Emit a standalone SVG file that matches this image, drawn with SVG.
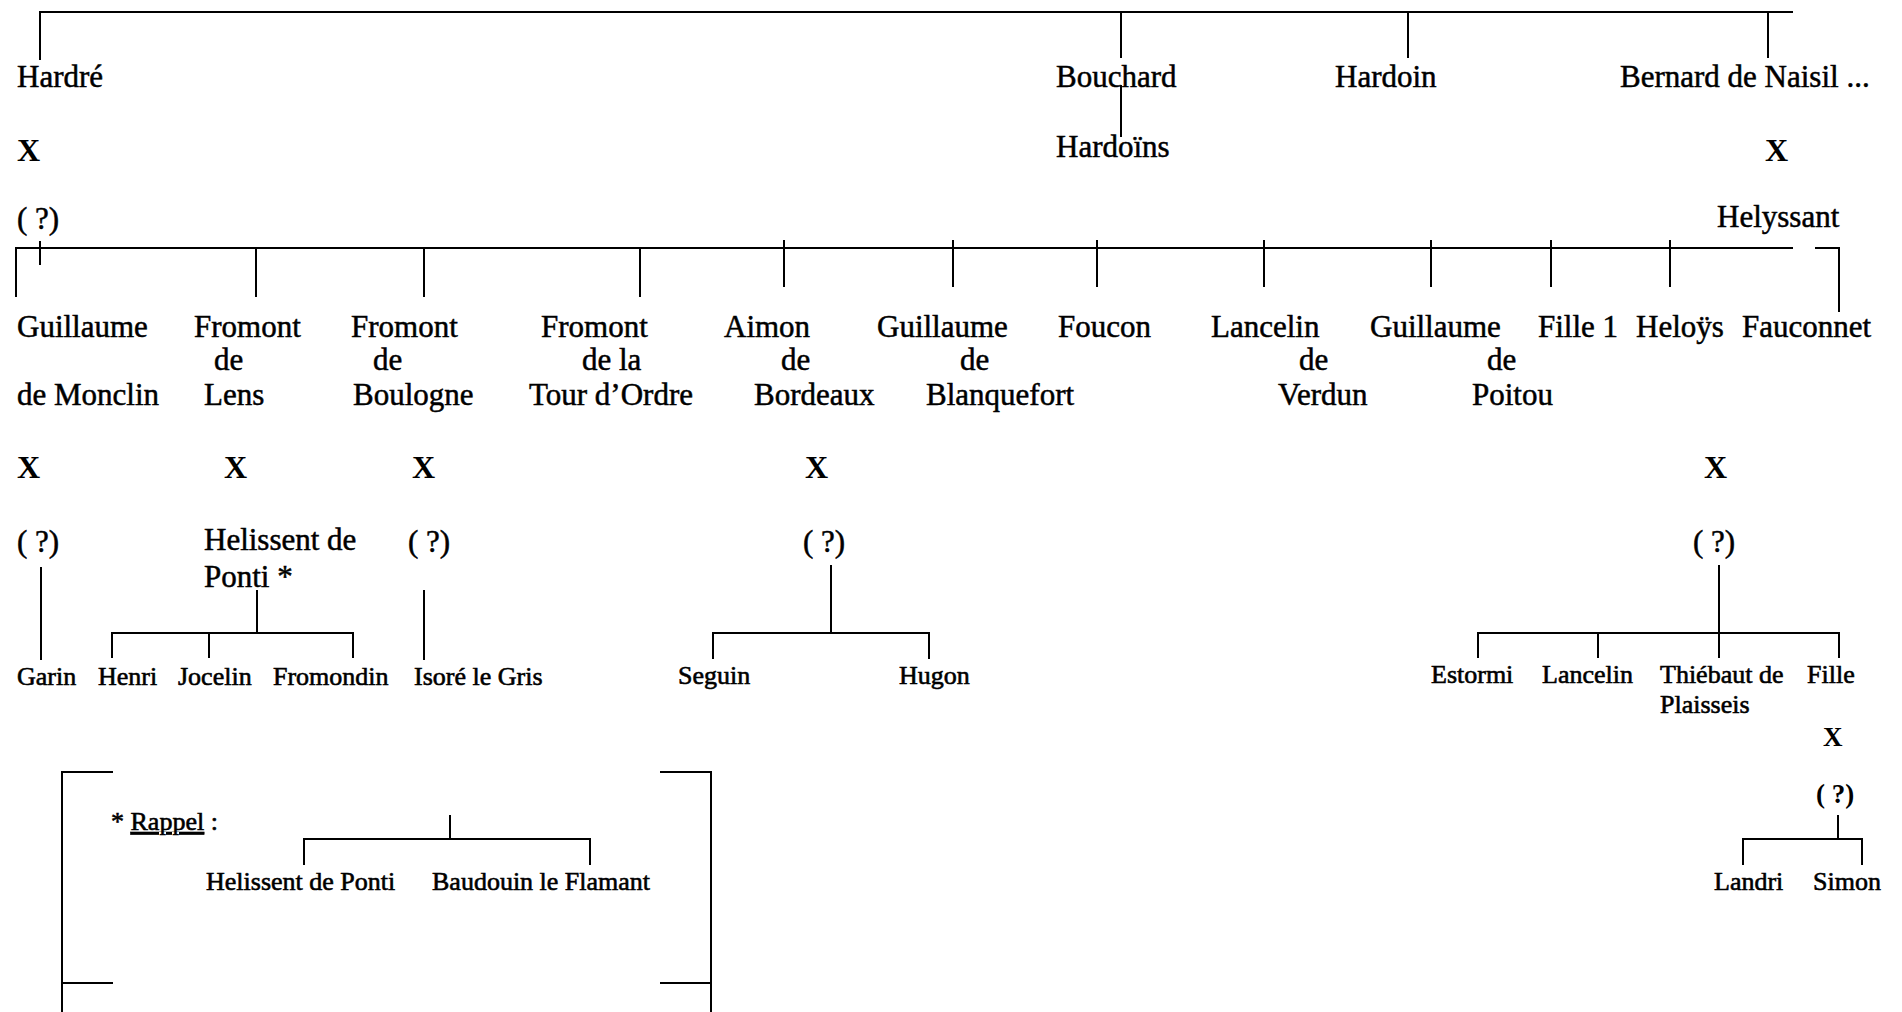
<svg xmlns="http://www.w3.org/2000/svg" width="1902" height="1012" viewBox="0 0 1902 1012">
<style>
text{font-family:"Liberation Serif","Times New Roman",serif;fill:#000}
.t{font-size:31px;stroke:#000;stroke-width:0.5}
.s{font-size:26px;stroke:#000;stroke-width:0.6}
.x{font-size:32px;font-weight:bold}
.xs{font-size:27px;font-weight:bold}
.c path{stroke:#000;stroke-width:2;fill:none}
.u{text-decoration:underline}
</style>
<rect width="1902" height="1012" fill="#fff"/>
<g id="connectors" class="c">
<path d="M40 60V12H1793"/>
<path d="M1121 12V58M1408 12V58M1768 12V58"/>
<path d="M1121 85V137"/>
<path d="M40 241V265"/>
<path d="M16 297V248H1793"/>
<path d="M1815 248H1839V312"/>
<path d="M256 248V297M424 248V297M640 248V297M784 240V287M953 240V287M1097 240V287M1264 240V287M1431 240V287M1551 240V287M1670 240V287"/>
<path d="M41 567V660"/>
<path d="M257 590V633M112 658V633H353V658M209 633V658"/>
<path d="M424 590V660"/>
<path d="M831 565V633M713 659V633H929V659"/>
<path d="M1719 565V658M1478 658V633H1839V658M1598 633V658"/>
<path d="M1838 815V839M1743 865V839H1862V865"/>
<path d="M450 815V839M304 865V839H590V865"/>
</g>
<g id="rappel-frame" class="c">
<path d="M113 772H62V1012M62 983H113M660 772H711V1012M660 983H711"/>
</g>
<g id="hardre"><text class="t" x="17" y="87">Hardré</text><text class="x" x="17" y="161">X</text><text class="t" x="17" y="229">( ?)</text></g>
<g id="bouchard"><text class="t" x="1056" y="87">Bouchard</text></g>
<g id="hardoins"><text class="t" x="1056" y="157">Hardoïns</text></g>
<g id="hardoin"><text class="t" x="1335" y="87">Hardoin</text></g>
<g id="bernard"><text class="t" x="1620" y="87">Bernard de Naisil ...</text><text class="x" x="1765" y="161">X</text><text class="t" x="1717" y="227">Helyssant</text></g>
<g id="guillaume-monclin"><text class="t" x="17" y="337">Guillaume</text><text class="t" x="17" y="405">de Monclin</text><text class="x" x="17" y="478">X</text><text class="t" x="17" y="552">( ?)</text></g>
<g id="fromont-lens"><text class="t"><tspan x="194" y="337">Fromont</tspan><tspan x="214" y="370">de</tspan><tspan x="204" y="405">Lens</tspan></text><text class="x" x="224" y="478">X</text><text class="t"><tspan x="204" y="550">Helissent de</tspan><tspan x="204" y="587">Ponti *</tspan></text></g>
<g id="fromont-boulogne"><text class="t"><tspan x="351" y="337">Fromont</tspan><tspan x="373" y="370">de</tspan><tspan x="353" y="405">Boulogne</tspan></text><text class="x" x="412" y="478">X</text><text class="t" x="408" y="552">( ?)</text></g>
<g id="fromont-tour"><text class="t"><tspan x="541" y="337">Fromont</tspan><tspan x="582" y="370">de la</tspan><tspan x="529" y="405">Tour d’Ordre</tspan></text></g>
<g id="aimon"><text class="t"><tspan x="724" y="337">Aimon</tspan><tspan x="781" y="370">de</tspan><tspan x="754" y="405">Bordeaux</tspan></text><text class="x" x="805" y="478">X</text><text class="t" x="803" y="552">( ?)</text></g>
<g id="guillaume-blanquefort"><text class="t"><tspan x="877" y="337">Guillaume</tspan><tspan x="960" y="370">de</tspan><tspan x="926" y="405">Blanquefort</tspan></text></g>
<g id="foucon"><text class="t" x="1058" y="337">Foucon</text></g>
<g id="lancelin-verdun"><text class="t"><tspan x="1211" y="337">Lancelin</tspan><tspan x="1299" y="370">de</tspan><tspan x="1278" y="405">Verdun</tspan></text></g>
<g id="guillaume-poitou"><text class="t"><tspan x="1370" y="337">Guillaume</tspan><tspan x="1487" y="370">de</tspan><tspan x="1472" y="405">Poitou</tspan></text></g>
<g id="fille1"><text class="t" x="1538" y="337">Fille 1</text></g>
<g id="heloys"><text class="t" x="1636" y="337">Heloÿs</text><text class="x" x="1704" y="478">X</text><text class="t" x="1693" y="552">( ?)</text></g>
<g id="fauconnet"><text class="t" x="1742" y="337">Fauconnet</text></g>
<g id="garin"><text class="s" x="17" y="685">Garin</text></g>
<g id="henri"><text class="s" x="98" y="685">Henri</text></g>
<g id="jocelin"><text class="s" x="178" y="685">Jocelin</text></g>
<g id="fromondin"><text class="s" x="273" y="685">Fromondin</text></g>
<g id="isore"><text class="s" x="414" y="685">Isoré le Gris</text></g>
<g id="seguin"><text class="s" x="678" y="684">Seguin</text></g>
<g id="hugon"><text class="s" x="899" y="684">Hugon</text></g>
<g id="estormi"><text class="s" x="1431" y="683">Estormi</text></g>
<g id="lancelin"><text class="s" x="1542" y="683">Lancelin</text></g>
<g id="thiebaut"><text class="s"><tspan x="1660" y="683">Thiébaut de</tspan><tspan x="1660" y="713">Plaisseis</tspan></text></g>
<g id="fille"><text class="s" x="1807" y="683">Fille</text><text class="xs" x="1823" y="746">X</text><text class="xs" x="1816" y="803">( ?)</text></g>
<g id="landri"><text class="s" x="1714" y="890">Landri</text></g>
<g id="simon"><text class="s" x="1813" y="890">Simon</text></g>
<g id="rappel"><text class="s" x="111" y="830">* <tspan class="u">Rappel</tspan> :</text></g>
<g id="helissent-ponti"><text class="s" x="206" y="890">Helissent de Ponti</text></g>
<g id="baudouin"><text class="s" x="432" y="890">Baudouin le Flamant</text></g>
</svg>
